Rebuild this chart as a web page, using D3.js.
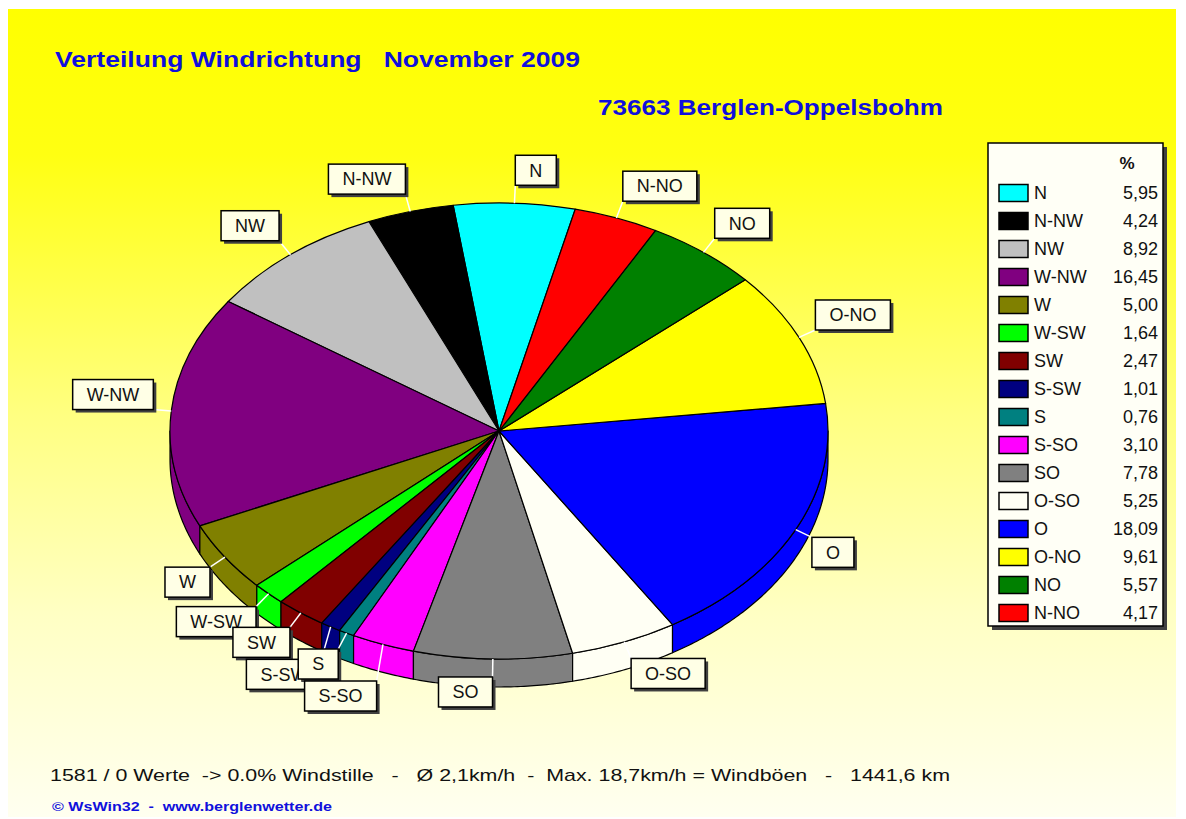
<!DOCTYPE html>
<html>
<head>
<meta charset="utf-8">
<script src="https://cdn.jsdelivr.net/npm/d3@7"></script>
<style>
  body { margin: 0; background: #fff; }
  text { font-family: "Liberation Sans", Arial, sans-serif; }
</style>
</head>
<body>
<script>
// wind direction shares, legend order (counter-clockwise from N)
const directions = ["N", "N-NW", "NW", "W-NW", "W", "W-SW", "SW", "S-SW", "S", "S-SO", "SO", "O-SO", "O", "O-NO", "NO", "N-NO"];
const percents = [5.95, 4.24, 8.92, 16.45, 5.00, 1.64, 2.47, 1.01, 0.76, 3.10, 7.78, 5.25, 18.09, 9.61, 5.57, 4.17];
const colors = ["#00ffff", "#000000", "#c0c0c0", "#800080", "#808000", "#00ff00", "#800000", "#000080",
                "#008080", "#ff00ff", "#808080", "#fffff4", "#0000ff", "#ffff00", "#008000", "#ff0000"];

const titleText = "Verteilung Windrichtung   November 2009";
const stationText = "73663 Berglen-Oppelsbohm";
const summaryText = "1581 / 0 Werte  -> 0.0% Windstille   -   \u00d8 2,1km/h  -  Max. 18,7km/h = Windb\u00f6en   -   1441,6 km";
const footerText = "\u00a9 WsWin32  -  www.berglenwetter.de";

const data = directions.map((d, i) => ({ name: d, value: percents[i], color: colors[i] }));

const width = 1186, height = 819;
const cx = 499, cy = 431, rx = 329, ry = 228, depth = 28;
const start = 13.4 * Math.PI / 180;
const blue = "#1010dc";

const svg = d3.select("body").append("svg")
  .attr("width", width)
  .attr("height", height);

const grad = svg.append("defs").append("linearGradient")
  .attr("id", "bg").attr("x1", 0).attr("y1", 0).attr("x2", 0).attr("y2", 1);
[[0, "#ffff00"], [0.18, "#ffff12"], [0.5, "#ffff80"], [0.75, "#ffffc4"], [1, "#fffff0"]].forEach(s => {
  grad.append("stop").attr("offset", s[0]).attr("stop-color", s[1]);
});

svg.append("rect")
  .attr("x", 8).attr("y", 9)
  .attr("width", 1168).attr("height", 808)
  .attr("fill", "url(#bg)");

// titles
svg.append("text")
  .attr("x", 55).attr("y", 67)
  .attr("font-size", 22).attr("font-weight", "bold")
  .attr("fill", blue)
  .attr("textLength", 525).attr("lengthAdjust", "spacingAndGlyphs")
  .style("white-space", "pre")
  .text(titleText);

svg.append("text")
  .attr("x", 598).attr("y", 115)
  .attr("font-size", 22).attr("font-weight", "bold")
  .attr("fill", blue)
  .attr("textLength", 345).attr("lengthAdjust", "spacingAndGlyphs")
  .text(stationText);

// pie layout, slices run counter-clockwise
const pie = d3.pie()
  .sort(null)
  .value(d => d.value)
  .startAngle(start)
  .endAngle(start - 2 * Math.PI);
const arcs = pie(data);

function ept(a, off) {
  return [cx + rx * Math.sin(a), cy - ry * Math.cos(a) + (off || 0)];
}

// side walls on the front half
const line = d3.line();
const walls = svg.append("g");
arcs.forEach(a => {
  const lo = Math.min(a.startAngle, a.endAngle);
  const hi = Math.max(a.startAngle, a.endAngle);
  for (let k = -2; k <= 1; k++) {
    const a0 = Math.max(lo, Math.PI / 2 + 2 * Math.PI * k);
    const a1 = Math.min(hi, 3 * Math.PI / 2 + 2 * Math.PI * k);
    if (a0 >= a1) continue;
    const n = Math.ceil((a1 - a0) / 0.01) + 1;
    const angs = d3.range(n).map(i => a0 + (a1 - a0) * i / (n - 1));
    const pts = angs.map(t => ept(t)).concat(angs.slice().reverse().map(t => ept(t, depth)));
    walls.append("path")
      .attr("d", line(pts) + "Z")
      .attr("fill", a.data.color)
      .attr("stroke", "#000")
      .attr("stroke-width", 1.2)
      .attr("stroke-linejoin", "round");
  }
});

// top faces
const arc = d3.arc().innerRadius(0).outerRadius(rx);
svg.append("g")
  .attr("transform", `translate(${cx},${cy}) scale(1,${ry / rx})`)
  .selectAll("path")
  .data(arcs)
  .join("path")
  .attr("d", arc)
  .attr("fill", d => d.data.color)
  .attr("stroke", "#000")
  .attr("stroke-width", 1.2)
  .attr("stroke-linejoin", "round")
  .attr("vector-effect", "non-scaling-stroke");

// labels
const pad = 14, boxH = 30, lead = 18;
const leaders = svg.append("g");
const boxes = svg.append("g");
let prev = null;
arcs.forEach(a => {
  const mid = (a.startAngle + a.endAngle) / 2;
  const s = Math.sin(mid), c = Math.cos(mid);
  const g = boxes.append("g");
  const shadow = g.append("rect").attr("fill", "#404040");
  const box = g.append("rect").attr("fill", "#ffffe6").attr("stroke", "#000").attr("stroke-width", 1.5);
  const t = g.append("text")
    .attr("font-size", 18).attr("fill", "#111")
    .attr("text-anchor", "middle").attr("dy", "0.35em")
    .text(a.data.name);
  const w = t.node().getComputedTextLength() + 2 * pad;
  const ex = cx + (rx + lead) * s, ey = cy - (ry + lead) * c;
  const bx = s < 0 ? ex - w : ex;
  let by = c > 0 ? ey - boxH : ey;
  // crowded lower-left labels: push down below the previous one
  if (c < 0 && s < 0) {
    if (prev && bx + pad < prev.x + prev.w - pad && prev.x + pad < bx + w - pad && by < prev.y + boxH + 2) {
      by = prev.y + boxH + 2;
    }
    prev = { x: bx, y: by, w: w };
  }
  shadow.attr("x", bx + 3).attr("y", by + 3).attr("width", w).attr("height", boxH);
  box.attr("x", bx).attr("y", by).attr("width", w).attr("height", boxH);
  t.attr("x", bx + w / 2).attr("y", by + boxH / 2);
  const p0 = ept(mid);
  leaders.append("line")
    .attr("x1", p0[0]).attr("y1", p0[1])
    .attr("x2", s < 0 ? bx + w : bx).attr("y2", c > 0 ? by + boxH : by)
    .attr("stroke", "#fff").attr("stroke-width", 1.5);
});

// legend
const lg = svg.append("g");
lg.append("rect").attr("x", 992).attr("y", 147).attr("width", 175).attr("height", 483).attr("fill", "#404040");
lg.append("rect").attr("x", 988).attr("y", 143).attr("width", 175).attr("height", 483)
  .attr("fill", "#fffff6").attr("stroke", "#000").attr("stroke-width", 1.5);
lg.append("text").attr("x", 1127).attr("y", 163).attr("dy", "0.35em")
  .attr("font-size", 17).attr("font-weight", "bold").attr("text-anchor", "middle").attr("fill", "#111")
  .text("%");

const rowY = d3.scaleBand().domain(directions).range([179, 179 + 28 * directions.length]);
const fmt = v => d3.format(".2f")(v).replace(".", ",");
const rows = lg.selectAll("g.row").data(data).join("g").attr("class", "row")
  .attr("transform", d => `translate(0,${rowY(d.name) + rowY.bandwidth() / 2})`);
rows.append("rect")
  .attr("x", 999).attr("y", -8.5).attr("width", 29).attr("height", 17)
  .attr("fill", d => d.color).attr("stroke", "#000").attr("stroke-width", 1.5);
rows.append("text")
  .attr("x", 1034).attr("dy", "0.35em").attr("font-size", 18).attr("fill", "#111")
  .text(d => d.name);
rows.append("text")
  .attr("x", 1158).attr("dy", "0.35em").attr("font-size", 18).attr("fill", "#111")
  .attr("text-anchor", "end")
  .text(d => fmt(d.value));

// footer lines
svg.append("text")
  .attr("x", 50).attr("y", 781)
  .attr("font-size", 17).attr("fill", "#111")
  .attr("textLength", 900).attr("lengthAdjust", "spacingAndGlyphs")
  .style("white-space", "pre")
  .text(summaryText);

svg.append("text")
  .attr("x", 52).attr("y", 811)
  .attr("font-size", 13).attr("font-weight", "bold").attr("fill", blue)
  .attr("textLength", 280).attr("lengthAdjust", "spacingAndGlyphs")
  .style("white-space", "pre")
  .text(footerText);
</script>
</body>
</html>
